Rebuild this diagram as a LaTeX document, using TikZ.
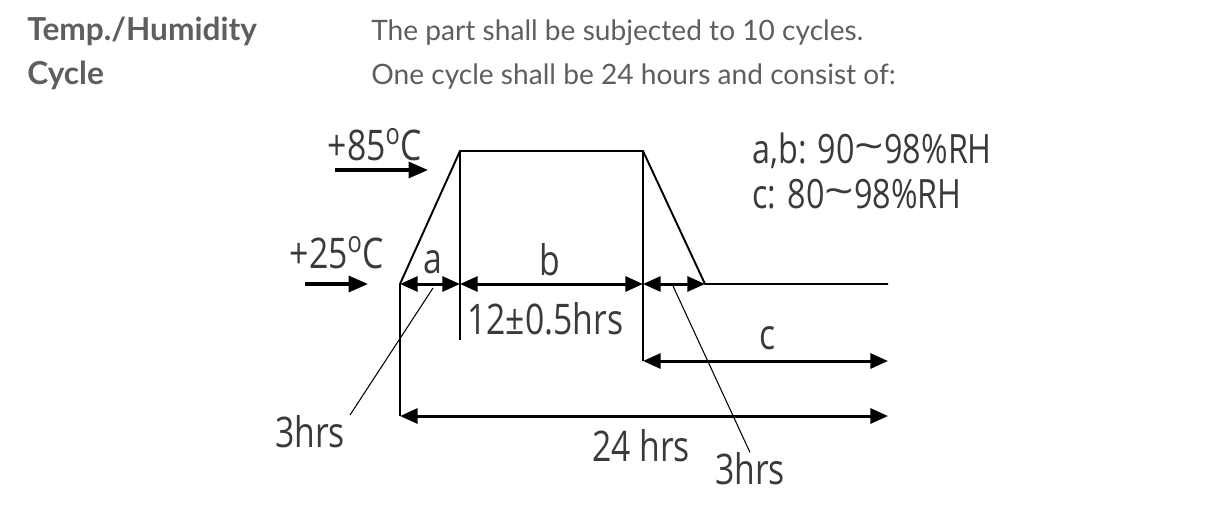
\documentclass[tikz,border=0pt]{standalone}
\usepackage{fontspec}
\setmainfont{Lato}
\newfontfamily\figfont[FakeStretch=0.8]{Open Sans}
\usetikzlibrary{arrows.meta,positioning}
\definecolor{hdGrey}{HTML}{5E5E5E}
\definecolor{figInk}{HTML}{3A3A3A}
\newcommand{\degsign}{\textsuperscript{o}}
\newcommand{\rangetilde}{\raisebox{0.05em}{\scalebox{1.6}[1]{\textasciitilde}}}

\begin{document}
\begin{tikzpicture}[x=0.02cm,y=-0.02cm,
      lbl/.style={text=figInk,font=\figfont\fontsize{24}{28}\selectfont,inner sep=0pt},
      head/.style={text=hdGrey,font=\fontsize{16}{19}\selectfont,anchor=base west,inner sep=0pt},
      dim/.style={{Triangle[length=10pt,width=8.5pt]}-{Triangle[length=10pt,width=8.5pt]},line width=1.7pt},
      feed/.style={-{Triangle[length=11pt,width=9pt]},line width=2pt},
      trace/.style={line width=1.1pt},
      lead/.style={line width=0.6pt}]
    \useasboundingbox (0,0) rectangle (1213,518);

    % header text
    \node[head,font=\fontsize{18}{21}\selectfont\bfseries] (hdA) at (27,40) {Temp./Humidity};
    \node[head,font=\fontsize{18}{21}\selectfont\bfseries] (hdB) at (27,84) {Cycle};
    \node[head] (txA) at (371,40) {The part shall be subjected to 10 cycles.};
    \node[head] (txB) at (371,84) {One cycle shall be 24 hours and consist of:};

    % temperature profile
    \coordinate (r0) at (400,284);
    \coordinate (r1) at (460,151);
    \coordinate (r2) at (643,151);
    \coordinate (r3) at (705,284);
    \coordinate (r4) at (888,284);
    \draw[trace] (r0) -- (r1) -- (r2) -- (r3) -- (r4);

    % extension lines
    \coordinate (e0) at (400,416);
    \coordinate (e1) at (460,340);
    \coordinate (e2) at (643,361);
    \draw[trace] (r0) -- (e0);
    \draw[trace] (r1) -- (e1);
    \draw[trace] (r2) -- (e2);

    % level markers
    \node[lbl] (t85) at (375,145) {+85\degsign C};
    \node[lbl] (t25) at (337,253) {+25\degsign C};
    \coordinate (f85a) at (335,170);
    \coordinate (f85b) at (428,170);
    \coordinate (f25a) at (305,284);
    \coordinate (f25b) at (368,284);
    \draw[feed] (f85a) -- (f85b);
    \draw[feed] (f25a) -- (f25b);

    % dimension arrows
    \coordinate (ab) at (460,284);
    \coordinate (c1) at (643,284);
    \coordinate (c2) at (888,361);
    \coordinate (c3) at (888,416);
    \foreach \a/\b in {r0/ab,ab/c1,c1/r3,e2/c2,e0/c3}
      \draw[dim] (\a) -- (\b);

    % labels
    \node[lbl] (la) at (433,262) {a};
    \node[lbl] (lb) at (550,260) {b};
    \node[lbl,anchor=west] (lbt) at (467,319) {12±0.5hrs};
    \node[lbl] (lc) at (768,338) {c};
    \node[lbl] (l24) at (641,446) {24 hrs};
    \node[lbl] (hrsL) at (310,432) {3hrs};
    \node[lbl] (hrsR) at (750,469) {3hrs};
    \node[lbl,anchor=base west,font=\figfont\fontsize{23}{26}\selectfont] (rhA) at (752,163)
         {a,b: 90\rangetilde98\%RH};
    \node[lbl,anchor=base west,font=\figfont\fontsize{23}{26}\selectfont] (rhB) at (752,208)
         {c: 80\rangetilde98\%RH};

    % leaders to the ramp times
    \coordinate (ldA) at (433,288);
    \coordinate (ldAe) at (350,415);
    \coordinate (ldB) at (673,286);
    \draw[lead] (ldA) -- (ldAe);
    \draw[lead] (ldB) -- (hrsR.north);
  \end{tikzpicture}
\end{document}
